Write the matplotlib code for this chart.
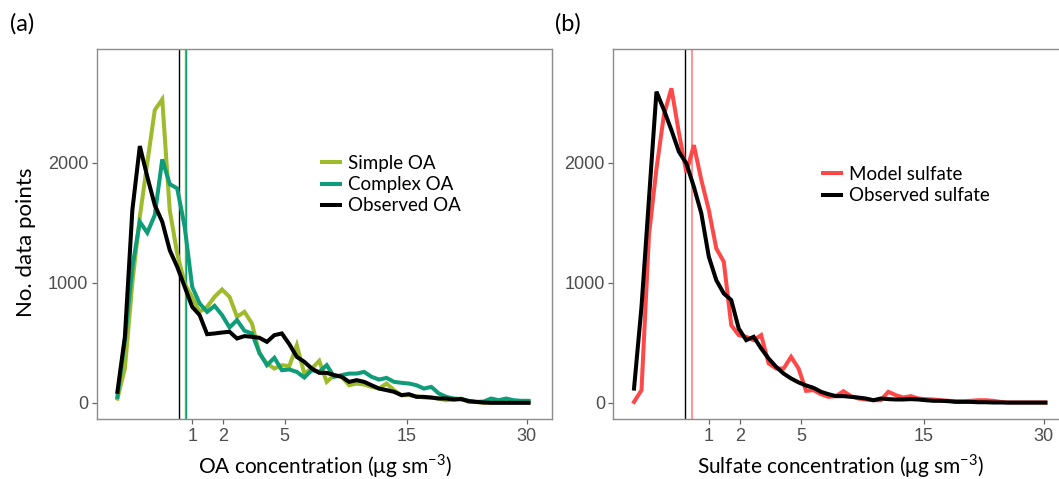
import numpy as np
import matplotlib
matplotlib.use("Agg")
import matplotlib.pyplot as plt

plt.rcParams["font.family"] = ["Liberation Sans", "DejaVu Sans"]

# concentration bin positions (ug m-3), evenly spaced on sqrt axis
conc = [0.00, 0.01, 0.04, 0.09, 0.16, 0.25, 0.36, 0.49, 0.64, 0.81,
        1.00, 1.21, 1.44, 1.69, 1.96, 2.25, 2.56, 2.89, 3.24, 3.61,
        4.00, 4.41, 4.84, 5.29, 5.76, 6.25, 6.76, 7.29, 7.84, 8.41,
        9.00, 9.61, 10.24, 10.89, 11.56, 12.25, 12.96, 13.69, 14.44, 15.21,
        16.00, 16.81, 17.64, 18.49, 19.36, 20.25, 21.16, 22.09, 23.04, 24.01,
        25.00, 26.01, 27.04, 28.09, 29.16, 30.25]

simple_oa = [36, 286, 1000, 1550, 2000, 2439, 2528, 1605, 1244, 994,
             880, 758, 800, 883, 944, 883, 717, 758, 661, 411,
             328, 286, 314, 306, 480, 244, 286, 350, 175, 230,
             217, 147, 161, 153, 133, 119, 161, 106, 64, 64,
             56, 44, 44, 36, 22, 28, 36, 8, 8, 0,
             8, 8, 14, 8, 8, 5]

complex_oa = [50, 522, 1133, 1508, 1417, 1564, 2028, 1822, 1786, 1467,
              967, 828, 758, 808, 731, 628, 689, 600, 578, 417,
              314, 375, 272, 278, 258, 211, 272, 258, 314, 217,
              231, 244, 244, 258, 217, 194, 208, 175, 167, 161,
              147, 119, 133, 78, 50, 36, 31, 17, 8, 11,
              36, 22, 36, 22, 17, 17]

observed_oa = [92, 550, 1606, 2139, 1883, 1647, 1508, 1272, 1133, 967,
               800, 731, 572, 578, 586, 592, 536, 556, 550, 542,
               508, 564, 578, 489, 383, 342, 286, 250, 250, 231,
               217, 175, 189, 175, 147, 119, 106, 92, 64, 72,
               50, 50, 44, 36, 36, 28, 31, 14, 8, 3,
               0, 0, 0, 0, 0, 0]

model_sulfate = [8, 106, 1400, 1950, 2400, 2620, 2250, 1920, 2147, 1856,
                 1606, 1286, 1175, 647, 564, 550, 522, 564, 328, 286,
                 286, 383, 286, 100, 106, 72, 50, 56, 97, 56,
                 36, 28, 22, 22, 92, 64, 44, 56, 36, 31,
                 28, 22, 17, 14, 14, 17, 22, 22, 17, 8,
                 3, 3, 3, 3, 3, 3]

observed_sulfate = [119, 800, 1700, 2592, 2439, 2272, 2092, 1994, 1800, 1578,
                    1217, 1022, 911, 856, 619, 522, 550, 453, 369, 300,
                    244, 203, 170, 145, 125, 92, 72, 56, 56, 50,
                    44, 36, 22, 36, 31, 28, 28, 31, 28, 22,
                    17, 17, 14, 8, 8, 8, 5, 5, 3, 3,
                    2, 2, 2, 2, 2, 2]

# mean lines
mean_obs_oa = 0.68
mean_simple_oa = 0.81
mean_complex_oa = 0.85
mean_obs_sulf = 0.468
mean_model_sulf = 0.597

x_ticks = [1, 2, 5, 15, 30]
y_ticks = [0, 1000, 2000]

c_simple = "#9DBB2B"
c_complex = "#0F9C78"
c_red = "#FF4848"
c_red_v = "#FF8080"

W, H = 1059, 479
fig = plt.figure(figsize=(W / 100, H / 100), dpi=100)

def fwd(x):
    x = np.asarray(x, dtype=float)
    return np.sign(x) * np.sqrt(np.abs(x))

def inv(y):
    y = np.asarray(y, dtype=float)
    return np.sign(y) * y ** 2

text_font = ["Lato", "DejaVu Sans"]

def style_axes(ax):
    ax.set_xscale("function", functions=(fwd, inv))
    ax.set_xlim(inv(-0.277), inv(5.818))
    ax.set_ylim(-137, 2945)
    ax.set_xticks(x_ticks)
    ax.set_xticklabels([str(t) for t in x_ticks])
    ax.set_yticks(y_ticks)
    ax.set_yticklabels([str(t) for t in y_ticks])
    ax.minorticks_off()
    for s in ax.spines.values():
        s.set_color("#8c8c8c")
        s.set_linewidth(1.0)
    ax.tick_params(axis="both", direction="out", length=3.5, width=0.9,
                   color="#666666", labelcolor="#4d4d4d", labelsize=13, pad=2.5)

leg_kw = dict(frameon=False, prop=dict(family=text_font, size=13.5), handlelength=0.95,
              handletextpad=0.45, labelspacing=0.22, borderaxespad=0, borderpad=0)

# Panel (a)
ax1 = fig.add_axes([96.7 / W, 59.7 / H, 455.6 / W, 370 / H])
style_axes(ax1)
ax1.axvline(mean_obs_oa, color="black", lw=1.0)
ax1.axvline(mean_simple_oa, color="#7FC31C", lw=1.0)
ax1.axvline(mean_complex_oa, color=c_complex, lw=1.0)
ax1.plot(conc, simple_oa, color=c_simple, lw=2.9, solid_joinstyle="miter", label="Simple OA")
ax1.plot(conc, complex_oa, color=c_complex, lw=2.9, solid_joinstyle="miter", label="Complex OA")
ax1.plot(conc, observed_oa, color="black", lw=2.9, solid_joinstyle="miter", label="Observed OA")
fig.text(26 / W, 1 - 242 / H, "No. data points", family=text_font, fontsize=16,
         rotation=90, ha="center", va="center")
fig.text(324.5 / W, 1 - 473 / H, "OA concentration (μg sm$^{\\mathregular{-3}}$)",
         family=text_font, fontsize=15, ha="center", va="baseline")
ax1.legend(loc="upper left", bbox_to_anchor=(322 / W, 1 - 155 / H),
           bbox_transform=fig.transFigure, **leg_kw)

# Panel (b)
ax2 = fig.add_axes([613.3 / W, 59.7 / H, 455.9 / W, 370 / H])
style_axes(ax2)
ax2.axvline(mean_obs_sulf, color="black", lw=1.0)
ax2.axvline(mean_model_sulf, color=c_red_v, lw=1.2)
ax2.plot(conc, model_sulfate, color=c_red, lw=2.9, solid_joinstyle="miter", label="Model sulfate")
ax2.plot(conc, observed_sulfate, color="black", lw=2.9, solid_joinstyle="miter", label="Observed sulfate")
fig.text(841 / W, 1 - 473 / H, "Sulfate concentration (μg sm$^{\\mathregular{-3}}$)",
         family=text_font, fontsize=15, ha="center", va="baseline")
ax2.legend(loc="upper left", bbox_to_anchor=(823 / W, 1 - 166 / H),
           bbox_transform=fig.transFigure, **leg_kw)

fig.text(10 / W, 1 - 24 / H, "(a)", family=text_font, fontsize=17, va="center", ha="left")
fig.text(555 / W, 1 - 24 / H, "(b)", family=text_font, fontsize=17, va="center", ha="left")

fig.savefig("out.png", dpi=100)
